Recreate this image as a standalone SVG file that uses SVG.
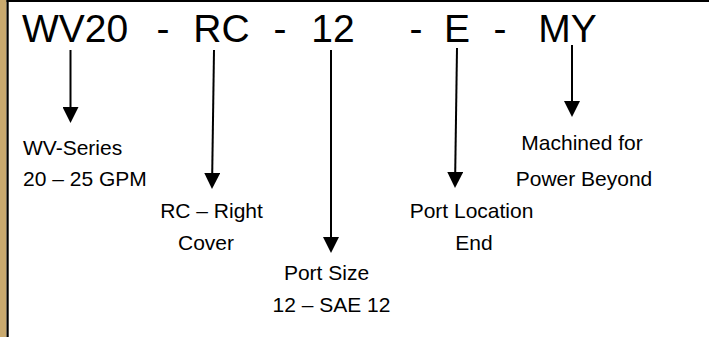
<svg xmlns="http://www.w3.org/2000/svg" width="709" height="337" viewBox="0 0 709 337">
<style>
.code{font-family:"Liberation Sans",Arial,sans-serif;font-size:39px;fill:#000;text-anchor:middle}
.lbl{font-family:"Liberation Sans",Arial,sans-serif;font-size:21px;fill:#000;text-anchor:middle}
.start{text-anchor:start}
.arr{stroke:#000;stroke-width:2;fill:none;marker-end:url(#ah)}
</style>
<defs>
<marker id="ah" viewBox="0 0 16 16" markerWidth="16" markerHeight="16" refX="2" refY="8" orient="auto" markerUnits="userSpaceOnUse">
<path d="M0,0 L16,8 L0,16 z" fill="#000"/>
</marker>
</defs>
<rect x="0" y="0" width="709" height="337" fill="#fff"/>
<rect x="0" y="0" width="6.5" height="337" fill="#C9A96E"/>
<rect x="6.5" y="0" width="2.2" height="337" fill="#000"/>
<rect x="6.5" y="0" width="702.5" height="2" fill="#000"/>
<g id="code">
<text class="code" x="75" y="42">WV20</text>
<text class="code" x="163" y="42">-</text>
<text class="code" x="221.5" y="42">RC</text>
<text class="code" x="280" y="42">-</text>
<text class="code" x="333" y="42">12</text>
<text class="code" x="416" y="42">-</text>
<text class="code" x="457" y="42">E</text>
<text class="code" x="500" y="42">-</text>
<text class="code" x="567.5" y="42">MY</text>
</g>
<g id="connectors">
<line class="arr" x1="70.5" y1="50" x2="70.5" y2="109"/>
<line class="arr" x1="214" y1="50" x2="212.2" y2="175"/>
<line class="arr" x1="331" y1="50" x2="331" y2="239"/>
<line class="arr" x1="457" y1="48" x2="455.2" y2="174"/>
<line class="arr" x1="572" y1="45" x2="572" y2="103"/>
</g>
<g id="series">
<text class="lbl start" x="23" y="155">WV-Series</text>
<text class="lbl start" x="23" y="186">20 – 25 GPM</text>
</g>
<g id="cover">
<text class="lbl" x="211.5" y="218">RC – Right</text>
<text class="lbl" x="206" y="250">Cover</text>
</g>
<g id="portsize">
<text class="lbl" x="326.5" y="280">Port Size</text>
<text class="lbl" x="331.5" y="312">12 – SAE 12</text>
</g>
<g id="portlocation">
<text class="lbl" x="471.5" y="218">Port Location</text>
<text class="lbl" x="474" y="250">End</text>
</g>
<g id="machined">
<text class="lbl" x="582" y="150">Machined for</text>
<text class="lbl" x="584" y="186">Power Beyond</text>
</g>
</svg>
